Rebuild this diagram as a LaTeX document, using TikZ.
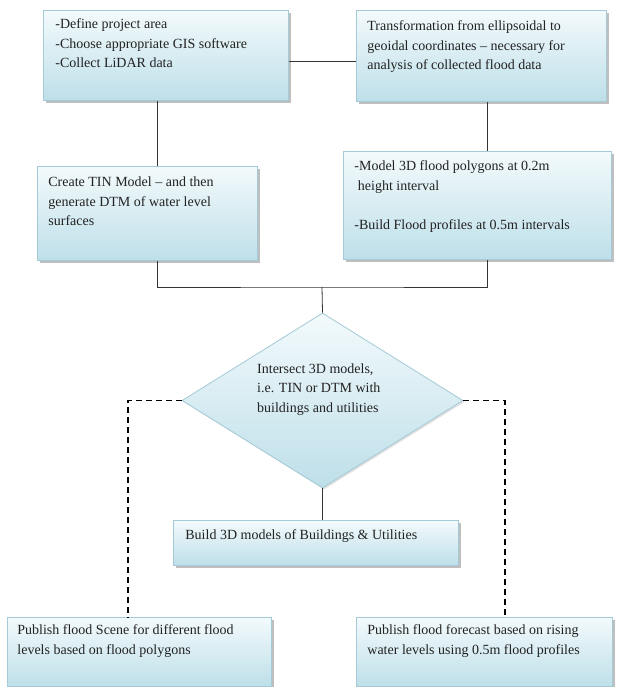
\documentclass[tikz,border=0pt]{standalone}
\usepackage{fontspec}
\setmainfont{Liberation Serif}
\usetikzlibrary{shapes.geometric,shadows}
\definecolor{boxtop}{HTML}{F3FAFC}
\definecolor{boxbot}{HTML}{BEDFE9}
\definecolor{boxedge}{HTML}{A3CAD6}
\definecolor{txt}{HTML}{222222}
\definecolor{conn}{HTML}{333333}
\newcommand{\bxt}[4]{\parbox[c][#2pt][t]{#1pt}{\fontsize{14}{19.8}\selectfont\raggedright\vspace*{#3pt}\strut #4}}
\tikzset{
  bx/.style={draw=boxedge, line width=0.8pt, top color=boxtop, bottom color=boxbot,
    inner ysep=0pt, anchor=north west, text=txt,
    drop shadow={shadow xshift=2.2pt, shadow yshift=-2.2pt, fill=black!45, opacity=0.55}},
  dia/.style={diamond, draw=boxedge, line width=0.8pt, top color=boxtop, bottom color=boxbot,
    minimum width=281pt, minimum height=175pt, inner sep=0pt,
    drop shadow={shadow xshift=1.5pt, shadow yshift=-1.5pt, fill=black!30, opacity=0.4}},
  link/.style={draw=conn, line width=0.8pt},
  dlink/.style={draw=black, line width=1.4pt, dash pattern=on 6pt off 4pt}
}
\begin{document}
\begin{tikzpicture}[x=1pt,y=-1pt]
\useasboundingbox[fill=white] (0,0) rectangle (616,687);
% boxes
\node[bx, inner xsep=12pt] (b1) at (43,10) {\bxt{221}{90}{4}{-Define project area\\-Choose appropriate GIS software\\-Collect LiDAR data}};
\node[bx, inner xsep=11pt] (b2) at (356,10) {\bxt{228}{91}{6}{Transformation from ellipsoidal to\\geoidal coordinates -- necessary for\\analysis of collected flood data}};
\node[bx, inner xsep=11pt] (tin) at (37,166) {\bxt{198}{94}{6}{Create TIN Model -- and then\\generate DTM of water level\\surfaces}};
\node[bx, inner xsep=11pt] (fl) at (343,151) {\bxt{246}{108}{5}{-Model 3D flood polygons at 0.2m\\\hspace*{3.5pt}height interval\\[19.8pt]-Build Flood profiles at 0.5m intervals}};
\node[dia] (dia) at (322.5,400.5) {};
\node[anchor=north west, inner sep=0pt, text=txt] (dtxt) at (257,359) {\parbox[t]{200pt}{\fontsize{14}{19.8}\selectfont\raggedright\strut Intersect 3D models,\\i.e. TIN or DTM with\\buildings and utilities}};
\node[bx, inner xsep=12pt] (build) at (173,520) {\bxt{261}{45}{5}{Build 3D models of Buildings \& Utilities}};
\node[bx, inner xsep=10pt] (pl) at (7,617) {\bxt{244}{69}{3}{Publish flood Scene for different flood\\levels based on flood polygons}};
\node[bx, inner xsep=11pt] (pr) at (356,617) {\bxt{234}{69}{3}{Publish flood forecast based on rising\\water levels using 0.5m flood profiles}};
% helper coordinates
\coordinate (cL) at (157,0);
\coordinate (cR) at (487,0);
\coordinate (j) at (322,287);
\coordinate (dL) at (128,0);
\coordinate (dR) at (505,0);
% connectors
\draw[link] ([yshift=-6pt]b1.east) -- ([yshift=-6pt]b1.east -| b2.west);
\draw[link] (b1.south -| cL) -- (tin.north -| cL);
\draw[link] (b2.south -| cR) -- (fl.north -| cR);
\draw[link] (tin.south -| cL) |- (j) -| (fl.south -| cR);
\draw[link] (j) -- (dia.north);
\draw[link] (dia.south) -- (dia.south |- build.north);
\draw[dlink] (dia.west) -| (pl.north -| dL);
\draw[dlink] (dia.east) -| (pr.north -| dR);
\end{tikzpicture}
\end{document}
